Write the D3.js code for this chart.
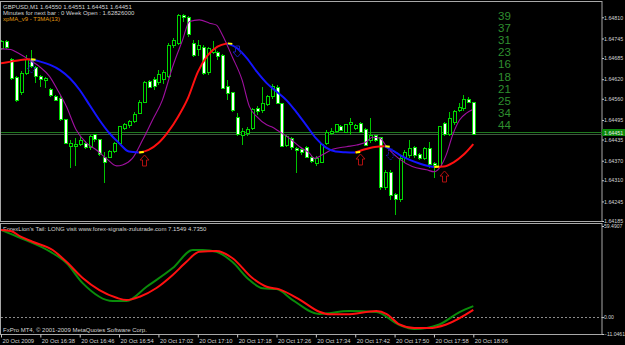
<!DOCTYPE html>
<html>
<head>
<meta charset="utf-8">
<script src="https://cdn.jsdelivr.net/npm/d3@7"></script>
<style>
html, body { margin: 0; padding: 0; background: #000; }
svg { display: block; }
text { font-family: "Liberation Sans", Arial, sans-serif; font-size: 6px; fill: #d4d4d4; }
</style>
</head>
<body>
<svg width="625" height="345"></svg>
<script>
// GBPUSD M1, 20 Oct 2009 16:30 .. 18:06
var open  = [1.64715,1.64735,1.64679,1.64624,1.64578,1.64639,1.64682,1.64655,1.64627,1.64615,1.64587,1.64566,1.64562,1.64495,1.64415,1.64415,1.64421,1.64424,1.64412,1.64449,1.64434,1.64381,1.64381,1.64397,1.64424,1.64470,1.64477,1.64489,1.64516,1.64550,1.64612,1.64618,1.64609,1.64618,1.64627,1.64722,1.64731,1.64814,1.64808,1.64731,1.64710,1.64716,1.64642,1.64701,1.64701,1.64694,1.64599,1.64578,1.64504,1.64446,1.64452,1.64470,1.64529,1.64523,1.64541,1.64566,1.64596,1.64544,1.64418,1.64437,1.64406,1.64403,1.64412,1.64381,1.64360,1.64366,1.64424,1.64455,1.64461,1.64474,1.64458,1.64480,1.64470,1.64483,1.64467,1.64431,1.64446,1.64440,1.64289,1.64335,1.64265,1.64250,1.64381,1.64385,1.64409,1.64388,1.64378,1.64406,1.64360,1.64351,1.64483,1.64449,1.64486,1.64523,1.64529,1.64559,1.64550]
var high  = [1.64740,1.64740,1.64685,1.64630,1.64645,1.64694,1.64710,1.64661,1.64633,1.64627,1.64593,1.64572,1.64569,1.64498,1.64434,1.64440,1.64443,1.64431,1.64449,1.64452,1.64437,1.64397,1.64403,1.64428,1.64477,1.64486,1.64495,1.64520,1.64556,1.64615,1.64618,1.64627,1.64648,1.64648,1.64731,1.64747,1.64820,1.64820,1.64814,1.64740,1.64740,1.64725,1.64719,1.64737,1.64707,1.64697,1.64618,1.64581,1.64516,1.64470,1.64474,1.64532,1.64538,1.64596,1.64572,1.64605,1.64602,1.64547,1.64449,1.64443,1.64412,1.64409,1.64415,1.64385,1.64385,1.64424,1.64464,1.64470,1.64483,1.64480,1.64483,1.64501,1.64483,1.64489,1.64470,1.64501,1.64449,1.64443,1.64342,1.64342,1.64271,1.64388,1.64403,1.64434,1.64415,1.64394,1.64412,1.64428,1.64366,1.64477,1.64489,1.64520,1.64526,1.64547,1.64572,1.64565,1.64551]
var low   = [1.64710,1.64713,1.64618,1.64550,1.64572,1.64633,1.64655,1.64609,1.64596,1.64593,1.64566,1.64553,1.64492,1.64421,1.64348,1.64354,1.64415,1.64406,1.64403,1.64428,1.64385,1.64302,1.64378,1.64394,1.64421,1.64464,1.64470,1.64486,1.64513,1.64547,1.64593,1.64587,1.64602,1.64605,1.64624,1.64716,1.64725,1.64796,1.64750,1.64688,1.64691,1.64633,1.64633,1.64697,1.64679,1.64590,1.64556,1.64520,1.64446,1.64418,1.64446,1.64464,1.64510,1.64516,1.64538,1.64559,1.64544,1.64412,1.64412,1.64403,1.64332,1.64388,1.64378,1.64363,1.64354,1.64363,1.64418,1.64449,1.64455,1.64461,1.64455,1.64449,1.64464,1.64455,1.64415,1.64424,1.64428,1.64280,1.64280,1.64250,1.64204,1.64243,1.64363,1.64378,1.64378,1.64372,1.64372,1.64348,1.64317,1.64348,1.64446,1.64446,1.64480,1.64520,1.64523,1.64547,1.64451]
var close = [1.64735,1.64718,1.64623,1.64556,1.64639,1.64679,1.64658,1.64627,1.64618,1.64621,1.64569,1.64556,1.64495,1.64424,1.64424,1.64421,1.64431,1.64412,1.64443,1.64434,1.64388,1.64366,1.64397,1.64424,1.64474,1.64480,1.64489,1.64513,1.64550,1.64609,1.64596,1.64599,1.64633,1.64642,1.64725,1.64740,1.64817,1.64808,1.64756,1.64694,1.64722,1.64639,1.64713,1.64710,1.64691,1.64593,1.64575,1.64523,1.64449,1.64461,1.64467,1.64526,1.64520,1.64547,1.64566,1.64599,1.64547,1.64415,1.64443,1.64409,1.64400,1.64394,1.64381,1.64369,1.64378,1.64421,1.64458,1.64461,1.64480,1.64464,1.64480,1.64486,1.64477,1.64458,1.64418,1.64446,1.64431,1.64289,1.64335,1.64262,1.64250,1.64378,1.64394,1.64406,1.64385,1.64378,1.64406,1.64357,1.64354,1.64474,1.64449,1.64498,1.64520,1.64532,1.64559,1.64550,1.64451]

var timeBars   = [0, 8, 16, 24, 32, 40, 48, 56, 64, 72, 80, 88, 96]
var timeLabels = ['20 Oct 2009', '20 Oct 16:38', '20 Oct 16:46', '20 Oct 16:54', '20 Oct 17:02', '20 Oct 17:10',
                  '20 Oct 17:18', '20 Oct 17:26', '20 Oct 17:34', '20 Oct 17:42', '20 Oct 17:50', '20 Oct 17:58', '20 Oct 18:06']
var priceTicks = [1.64810, 1.64745, 1.64685, 1.64620, 1.64560, 1.64495, 1.64435, 1.64370, 1.64310, 1.64245, 1.64185]
var bid = 1.64451

// xpMA T3MA(13)
var t3Bars = [0,2,4,6,8,10,12,14,16,18,20,22,24,26,28,30,32,34,36,38,40,42,44,46,48,50,52,54,56,58,60,62,64,66,68,70,72,74,76,78,80,81,84,86,88,90,92,94,96]
var t3Vals = [1.64669,1.64674,1.64679,1.64681,1.64674,1.64664,1.64648,1.64623,1.64587,1.64541,1.64495,1.64455,1.64424,1.64398,1.64395,1.64403,1.64424,1.64459,1.64505,1.64562,1.64642,1.64693,1.64720,1.64730,1.64715,1.64684,1.64643,1.64608,1.64582,1.64556,1.64520,1.64480,1.64439,1.64411,1.64398,1.64396,1.64395,1.64405,1.64412,1.64414,1.64398,1.64388,1.64367,1.64357,1.64351,1.64352,1.64365,1.64388,1.64421]

// fast purple MA
var maBars = [0,2,3,5.8,7.8,9.9,11.5,13.3,15.3,17.4,19.4,21.4,23.5,24.7,26.7,28.8,30.8,32.8,34.9,36.9,38.3,40.3,42.4,43.8,45,47,49,50.5,52,54,55,56.6,58.6,60.7,62.7,63.7,65.3,67.4,70.2,72.3,74.3,75.5,77,78.4,79.6,81,83.6,86.5,88.1,89.1,90.5,91.8,93.2,94.6,95.8]
var maVals = [1.64713,1.64711,1.64704,1.64679,1.64659,1.64628,1.64587,1.64536,1.64464,1.64424,1.64403,1.64377,1.64354,1.64357,1.64377,1.64434,1.64495,1.64556,1.64659,1.64740,1.64797,1.64802,1.64792,1.64786,1.64756,1.64689,1.64618,1.64536,1.64505,1.64480,1.64474,1.64459,1.64439,1.64413,1.64393,1.64377,1.64388,1.64405,1.64413,1.64418,1.64428,1.64442,1.64439,1.64413,1.64393,1.64375,1.64352,1.64342,1.64336,1.64347,1.64388,1.64449,1.64495,1.64516,1.64526]

var upArrowBars   = [29, 73, 90]
var upArrowTips   = [1.64388, 1.64391, 1.64339]
var downArrowBars = [6, 48, 79]
var downArrowTips = [1.64639, 1.64688, 1.64372]

var counts = [39, 37, 31, 23, 16, 18, 21, 25, 34, 44]

// ForexLion's Tail subwindow
var tailGreenBars = [0,4,10,13.3,16.6,22.7,25.5,29.6,34.9,39,41,43.8,47,50.5,53.2,56,59.3,64.7,70.8,76.3,81,84,89.1,93.2,96]
var tailGreen     = [56.9,51.6,42.7,35.3,22.2,10.5,10.5,19.8,32.0,43.8,43.8,42.7,36.1,24.2,18.8,18.3,11.1,2.0,3.9,3.3,-5.2,-7.8,-4.8,3.3,7.1549]
var tailRedBars = [0,2,4,6.4,10.5,13.3,16.6,20,23.5,25.5,28.2,31.6,34.9,37.7,40.3,43.8,47,51.1,54,56.6,60.7,64.7,66.8,70.2,76.3,78.4,81,84,87,90.5,96]
var tailRed     = [56.9,56.2,52.5,49.2,43.8,36.1,25.5,17.6,12.6,11.1,13.3,19.0,27.5,36.1,42.7,43.1,38.6,25.5,19.8,18.1,11.4,3.5,1.8,1.8,3.9,2.0,-4.8,-7.2,-7.2,-4.8,4.7350]
var tailTicks = [59.4907, 0, -11.0461]

var svg = d3.select('svg')
var W = 602, mainTop = 1.5, mainBot = 221.5, subTop = 223.5, subBot = 334.5

var x = d3.scaleLinear().domain([0, 96]).range([1, 473.3])
var y = d3.scaleLinear().domain([1.64185, 1.64810]).range([221, 17.3])
var ys = d3.scaleLinear().domain([-11.0461, 59.4907]).range([334, 226])

var defs = svg.append('defs')
defs.append('clipPath').attr('id', 'cm').append('rect')
  .attr('x', 1).attr('y', 2).attr('width', W - 1).attr('height', 219)
defs.append('clipPath').attr('id', 'cs').append('rect')
  .attr('x', 1).attr('y', 224).attr('width', W - 1).attr('height', 110)

// frames
svg.append('rect').attr('x', 0.5).attr('y', mainTop).attr('width', W - 0.5).attr('height', mainBot - mainTop)
  .attr('fill', 'none').attr('stroke', '#a8a8a8')
svg.append('rect').attr('x', 0.5).attr('y', subTop).attr('width', W - 0.5).attr('height', subBot - subTop)
  .attr('fill', 'none').attr('stroke', '#a8a8a8')

var main = svg.append('g').attr('clip-path', 'url(#cm)')

// bid line
var by = Math.round(y(bid)) - 1.5
main.append('line').attr('x1', 1).attr('x2', W).attr('y1', by).attr('y2', by)
  .attr('stroke', '#1f7a1f').attr('stroke-width', 1)
main.append('line').attr('x1', 1).attr('x2', W).attr('y1', by + 2).attr('y2', by + 2)
  .attr('stroke', '#3c5a3c').attr('stroke-width', 1)

// candles
var bars = d3.range(open.length)
var cg = main.append('g').attr('shape-rendering', 'crispEdges')
cg.selectAll('line').data(bars).enter().append('line')
  .attr('x1', function (i) { return Math.round(x(i)) + 0.5 })
  .attr('x2', function (i) { return Math.round(x(i)) + 0.5 })
  .attr('y1', function (i) { return y(high[i]) })
  .attr('y2', function (i) { return y(low[i]) })
  .attr('stroke', '#00c400')
cg.selectAll('rect').data(bars).enter().append('rect')
  .attr('x', function (i) { return Math.round(x(i)) - 1 })
  .attr('width', 3)
  .attr('y', function (i) { return y(Math.max(open[i], close[i])) })
  .attr('height', function (i) { return Math.max(1, Math.abs(y(open[i]) - y(close[i]))) })
  .attr('fill', function (i) { return close[i] >= open[i] ? '#000' : '#fff' })
  .attr('stroke', '#00d800')

// purple MA
main.append('path')
  .datum(maBars.map(function (b, i) { return [x(b), y(maVals[i])] }))
  .attr('d', d3.line().curve(d3.curveMonotoneX))
  .attr('fill', 'none').attr('stroke', '#a010a0').attr('stroke-width', 1.1)

// T3 line, coloured by direction
var runs = [], cur = null
for (var i = 1; i < t3Bars.length; i++) {
  var up = t3Vals[i] >= t3Vals[i - 1]
  if (!cur || cur.up !== up) { cur = { up: up, pts: [[x(t3Bars[i - 1]), y(t3Vals[i - 1])]] }; runs.push(cur) }
  cur.pts.push([x(t3Bars[i]), y(t3Vals[i])])
}
main.selectAll('path.t3').data(runs).enter().append('path').attr('class', 't3')
  .attr('d', function (r) { return d3.line().curve(d3.curveMonotoneX)(r.pts) })
  .attr('fill', 'none').attr('stroke-width', 2)
  .attr('stroke', function (r) { return r.up ? '#ff1010' : '#1414ff' })
main.selectAll('line.turn').data(runs.slice(1)).enter().append('line').attr('class', 'turn')
  .attr('x1', function (r) { return r.pts[0][0] + 0.5 })
  .attr('x2', function (r) { return r.pts[0][0] + 5 })
  .attr('y1', function (r) { return r.pts[0][1] })
  .attr('y2', function (r) { return r.pts[0][1] + (r.up ? -0.5 : 0.5) })
  .attr('stroke', '#ffff00').attr('stroke-width', 2)

// arrows
function arrowPath(dir) {
  // tip at 0,0; dir 1 = up, -1 = down
  var s = dir
  return 'M0,0 L4.5,' + 5 * s + ' L2,' + 5 * s + ' L2,' + 11 * s + ' L-2,' + 11 * s + ' L-2,' + 5 * s + ' L-4.5,' + 5 * s + ' Z'
}
main.selectAll('path.up').data(upArrowBars).enter().append('path').attr('class', 'up')
  .attr('transform', function (b, i) { return 'translate(' + (Math.round(x(b)) + 0.5) + ',' + Math.round(y(upArrowTips[i])) + ')' })
  .attr('d', arrowPath(1)).attr('fill', 'none').attr('stroke', '#b01010').attr('stroke-width', 1)
main.selectAll('path.dn').data(downArrowBars).enter().append('path').attr('class', 'dn')
  .attr('transform', function (b, i) { return 'translate(' + (Math.round(x(b)) + 0.5) + ',' + Math.round(y(downArrowTips[i])) + ')' })
  .attr('d', arrowPath(-1)).attr('fill', 'none').attr('stroke', '#1a1ab4').attr('stroke-width', 1)
  .attr('stroke-dasharray', function (b, i) { return i === 1 ? null : '1.5,1' })

// count column
svg.append('g').selectAll('text').data(counts).enter().append('text')
  .attr('x', 498).attr('y', function (d, i) { return 19.5 + i * 12.2 })
  .style('font-size', '11.5px').style('fill', '#2f8f2f').text(function (d) { return d })

// legends
var lg = svg.append('g')
lg.append('text').attr('x', 3).attr('y', 8.5).text('GBPUSD,M1  1.64550 1.64551 1.64451 1.64451')
lg.append('text').attr('x', 3).attr('y', 14.8).text('Minutes for next bar : 0   Week Open : 1.62826000')
lg.append('text').attr('x', 3).attr('y', 21).style('fill', '#e09a10').text('xpMA_v9 - T3MA(13)')
lg.append('text').attr('x', 3).attr('y', 231).text("ForexLion's Tail: LONG visit www.forex-signals-zulutrade.com   7.1549 4.7350")
lg.append('text').attr('x', 3).attr('y', 332).text('FxPro MT4, \u00a9 2001-2009 MetaQuotes Software Corp.')

// price axis
var pa = svg.append('g').attr('transform', 'translate(' + W + ',0)')
  .call(d3.axisRight(y).tickValues(priceTicks).tickFormat(d3.format('.5f')).tickSize(2).tickPadding(0))
pa.select('.domain').remove()
pa.selectAll('line').attr('stroke', '#c8c8c8')
pa.selectAll('text').attr('fill', '#d4d4d4').style('font-size', '5.3px')

// bid label
svg.append('rect').attr('x', W).attr('y', by - 3.5).attr('width', 23).attr('height', 7).attr('fill', '#0c8a0c')
svg.append('text').attr('x', W + 2).attr('y', by + 2).style('font-size', '5.3px').style('fill', '#e8e8e8').text(d3.format('.5f')(bid))

// subwindow
var sub = svg.append('g').attr('clip-path', 'url(#cs)')
sub.append('line').attr('x1', 1).attr('x2', W).attr('y1', Math.round(ys(0)) + 0.5).attr('y2', Math.round(ys(0)) + 0.5)
  .attr('stroke', '#8c8c8c').attr('stroke-dasharray', '2,2')
sub.append('path')
  .datum(tailGreenBars.map(function (b, i) { return [x(b), ys(tailGreen[i])] }))
  .attr('d', d3.line().curve(d3.curveMonotoneX))
  .attr('fill', 'none').attr('stroke', '#0a8c0a').attr('stroke-width', 2)
sub.append('path')
  .datum(tailRedBars.map(function (b, i) { return [x(b), ys(tailRed[i])] }))
  .attr('d', d3.line().curve(d3.curveMonotoneX))
  .attr('fill', 'none').attr('stroke', '#ff1010').attr('stroke-width', 2)

var sa = svg.append('g').attr('transform', 'translate(' + W + ',0)')
  .call(d3.axisRight(ys).tickValues(tailTicks)
    .tickFormat(function (d) { return d === 0 ? '0.00' : d3.format('.4f')(d) }).tickSize(2).tickPadding(0))
sa.select('.domain').remove()
sa.selectAll('line').attr('stroke', '#c8c8c8')
sa.selectAll('text').attr('fill', '#d4d4d4').style('font-size', '5.1px')

// time axis
var ta = svg.append('g').attr('transform', 'translate(0,' + subBot + ')')
  .call(d3.axisBottom(x).tickValues(timeBars).tickFormat(function (d, i) { return timeLabels[i] }).tickSize(3).tickPadding(1))
ta.select('.domain').remove()
ta.selectAll('line').attr('stroke', '#c8c8c8')
ta.selectAll('text').attr('text-anchor', 'start').attr('dx', 1).attr('fill', '#d4d4d4').style('font-size', '5.8px')
</script>
</body>
</html>
